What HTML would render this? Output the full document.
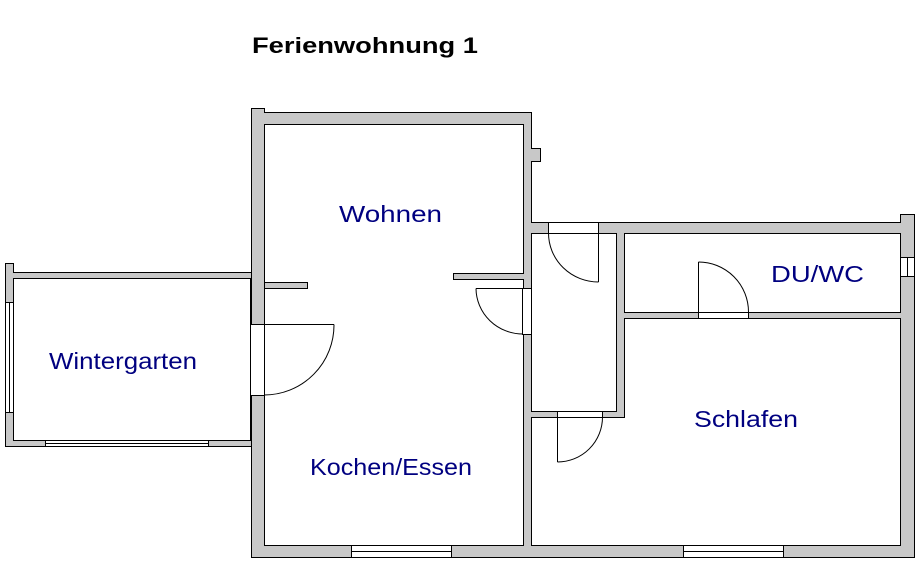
<!DOCTYPE html>
<html><head><meta charset="utf-8"><style>
html,body{margin:0;padding:0;background:#fff;width:922px;height:578px;overflow:hidden}
svg{display:block}
.l{font-family:"Liberation Sans",Arial,sans-serif;font-size:23px;fill:#000080}
</style></head><body>
<svg width="922" height="578" viewBox="0 0 922 578" xmlns="http://www.w3.org/2000/svg">
<g stroke="#000" stroke-width="1" shape-rendering="crispEdges">
<!-- wall masses -->
<polygon fill="#c8c8c8" points="251.5,108.5 264.5,108.5 264.5,112.5 531.5,112.5 531.5,148.5 540.5,148.5 540.5,161.5 531.5,161.5 531.5,222.5 900.5,222.5 900.5,214.5 914.5,214.5 914.5,557.5 251.5,557.5"/>
<polygon fill="#c8c8c8" points="5.5,263.5 13.5,263.5 13.5,272.5 251.5,272.5 251.5,446.5 5.5,446.5"/>
<!-- rooms -->
<rect x="13.5" y="278.5" width="237" height="162" fill="#fff"/>
<rect x="264.5" y="124.5" width="259" height="421" fill="#fff"/>
<rect x="531.5" y="233.5" width="85" height="178" fill="#fff"/>
<rect x="624.5" y="233.5" width="276" height="79" fill="#fff"/>
<polygon fill="#fff" points="531.5,417.5 624.5,417.5 624.5,318.5 900.5,318.5 900.5,545.5 531.5,545.5"/>
<!-- stubs -->
<rect x="264.5" y="282.5" width="43" height="6" fill="#c8c8c8"/>
<rect x="453.5" y="273.5" width="70" height="6" fill="#c8c8c8"/>
<!-- cover joints -->
<rect x="265" y="283" width="2" height="5" fill="#c8c8c8" stroke="none"/>
<rect x="521" y="274" width="3" height="5" fill="#c8c8c8" stroke="none"/>
<!-- door openings -->
<rect x="250.5" y="324.5" width="14" height="71" fill="#fff"/>
<rect x="522.5" y="288.5" width="9" height="46" fill="#fff"/>
<rect x="548.5" y="222.5" width="50" height="11" fill="#fff"/>
<rect x="698.5" y="312.5" width="50" height="6" fill="#fff"/>
<rect x="557.5" y="411.5" width="45" height="6" fill="#fff"/>
<!-- windows -->
<rect x="351.5" y="545.5" width="100" height="12" fill="#fff"/>
<line x1="351" y1="551.5" x2="451" y2="551.5"/>
<rect x="683.5" y="545.5" width="100" height="12" fill="#fff"/>
<line x1="683" y1="551.5" x2="783" y2="551.5"/>
<rect x="45.5" y="440.5" width="163" height="6" fill="#fff"/>
<line x1="45" y1="443.5" x2="208" y2="443.5"/>
<rect x="5.5" y="302.5" width="8" height="110" fill="#fff"/>
<line x1="9.5" y1="302" x2="9.5" y2="412"/>
<rect x="900.5" y="257.5" width="14" height="19" fill="#fff"/>
<line x1="907.5" y1="257" x2="907.5" y2="276"/>
</g>
<!-- doors -->
<g stroke="#000" stroke-width="1" fill="none">
<line x1="250" y1="324.5" x2="334" y2="324.5"/>
<path d="M334,324.5 A70,70 0 0 1 264,395"/>
<line x1="476" y1="288.5" x2="531" y2="288.5"/>
<path d="M476,288.5 A47,46 0 0 0 523,334"/>
<line x1="598.5" y1="233" x2="598.5" y2="282"/>
<path d="M548.5,233 A50,49 0 0 0 598.5,282"/>
<line x1="698.5" y1="312" x2="698.5" y2="262"/>
<path d="M698.5,262 A50,50 0 0 1 748.5,312"/>
<line x1="557.5" y1="417" x2="557.5" y2="462"/>
<path d="M602.5,417 A45,45 0 0 1 557.5,462"/>
</g>
<text x="252" y="53" font-family="Liberation Sans,Arial,sans-serif" font-size="22" font-weight="bold" fill="#000" textLength="226" lengthAdjust="spacingAndGlyphs">Ferienwohnung 1</text>
<text class="l" x="339" y="222" textLength="103" lengthAdjust="spacingAndGlyphs">Wohnen</text>
<text class="l" x="49" y="369" textLength="148" lengthAdjust="spacingAndGlyphs">Wintergarten</text>
<text class="l" x="310" y="475" textLength="162" lengthAdjust="spacingAndGlyphs">Kochen/Essen</text>
<text class="l" x="694" y="427" textLength="104" lengthAdjust="spacingAndGlyphs">Schlafen</text>
<text class="l" x="771" y="282" textLength="93" lengthAdjust="spacingAndGlyphs">DU/WC</text>
</svg>
</body></html>
